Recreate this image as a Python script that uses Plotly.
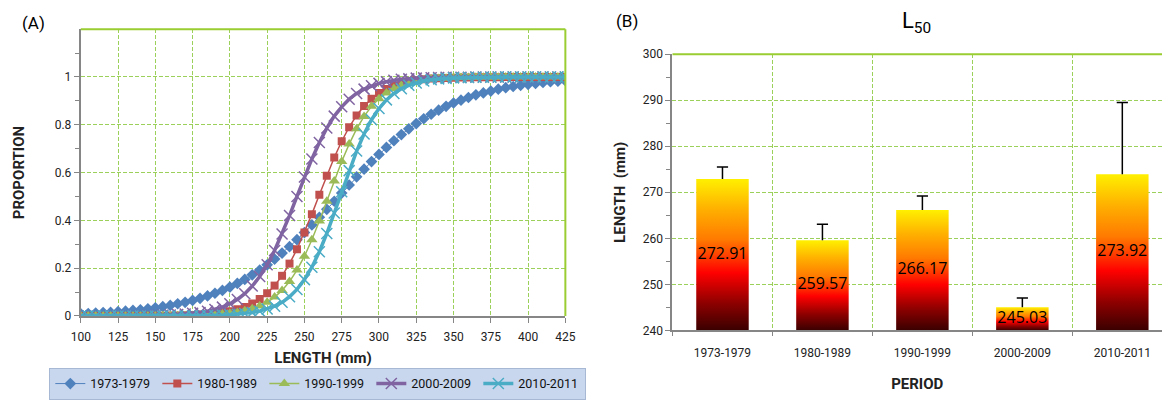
import plotly.graph_objects as go

# ---------------- data ----------------
LENGTH_MM = [100, 105, 110, 115, 120, 125, 130, 135, 140, 145, 150, 155, 160, 165, 170, 175,
             180, 185, 190, 195, 200, 205, 210, 215, 220, 225, 230, 235, 240, 245, 250, 255,
             260, 265, 270, 275, 280, 285, 290, 295, 300, 305, 310, 315, 320, 325, 330, 335,
             340, 345, 350, 355, 360, 365, 370, 375, 380, 385, 390, 395, 400, 405, 410, 415,
             420, 425]

P_1973_1979 = [0.009, 0.010, 0.012, 0.014, 0.015, 0.018, 0.020, 0.023, 0.026, 0.030, 0.034, 0.039,
               0.044, 0.051, 0.057, 0.065, 0.074, 0.084, 0.095, 0.107, 0.121, 0.136, 0.153, 0.172,
               0.192, 0.214, 0.238, 0.263, 0.290, 0.319, 0.349, 0.381, 0.413, 0.446, 0.480, 0.514,
               0.548, 0.582, 0.614, 0.646, 0.676, 0.705, 0.733, 0.759, 0.783, 0.805, 0.825, 0.844,
               0.861, 0.877, 0.891, 0.903, 0.914, 0.925, 0.933, 0.941, 0.949, 0.955, 0.960, 0.965,
               0.969, 0.973, 0.977, 0.980, 0.982, 0.984]

P_1980_1989 = [0.000, 0.000, 0.000, 0.000, 0.000, 0.000, 0.000, 0.000, 0.000, 0.001, 0.001, 0.001,
               0.002, 0.002, 0.003, 0.004, 0.006, 0.008, 0.011, 0.015, 0.020, 0.028, 0.038, 0.052,
               0.071, 0.095, 0.127, 0.168, 0.219, 0.279, 0.349, 0.426, 0.507, 0.587, 0.663, 0.731,
               0.790, 0.839, 0.878, 0.909, 0.933, 0.950, 0.964, 0.973, 0.981, 0.986, 0.990, 0.993,
               0.995, 0.996, 0.997, 0.998, 0.998, 0.999, 0.999, 0.999, 0.999, 1.000, 1.000, 1.000,
               1.000, 1.000, 1.000, 1.000, 1.000, 1.000]

P_1990_1999 = [0.000, 0.000, 0.000, 0.000, 0.000, 0.000, 0.000, 0.000, 0.000, 0.000, 0.000, 0.001,
               0.001, 0.001, 0.001, 0.002, 0.003, 0.004, 0.006, 0.008, 0.011, 0.015, 0.022, 0.030,
               0.042, 0.057, 0.079, 0.107, 0.144, 0.192, 0.250, 0.319, 0.397, 0.480, 0.565, 0.646,
               0.719, 0.783, 0.835, 0.877, 0.909, 0.933, 0.952, 0.965, 0.975, 0.982, 0.987, 0.991,
               0.993, 0.995, 0.997, 0.998, 0.998, 0.999, 0.999, 0.999, 0.999, 1.000, 1.000, 1.000,
               1.000, 1.000, 1.000, 1.000, 1.000, 1.000]

P_2000_2009 = [0.000, 0.000, 0.000, 0.000, 0.000, 0.000, 0.001, 0.001, 0.001, 0.002, 0.002, 0.003,
               0.004, 0.006, 0.008, 0.011, 0.014, 0.020, 0.027, 0.037, 0.051, 0.069, 0.093, 0.125,
               0.165, 0.214, 0.274, 0.343, 0.420, 0.500, 0.581, 0.657, 0.726, 0.786, 0.836, 0.875,
               0.907, 0.931, 0.949, 0.963, 0.973, 0.980, 0.986, 0.990, 0.992, 0.995, 0.996, 0.997,
               0.998, 0.999, 0.999, 0.999, 0.999, 1.000, 1.000, 1.000, 1.000, 1.000, 1.000, 1.000,
               1.000, 1.000, 1.000, 1.000, 1.000, 1.000]

P_2010_2011 = [0.000, 0.000, 0.000, 0.000, 0.000, 0.000, 0.000, 0.000, 0.000, 0.000, 0.000, 0.000,
               0.000, 0.000, 0.001, 0.001, 0.001, 0.002, 0.002, 0.003, 0.005, 0.007, 0.010, 0.014,
               0.020, 0.029, 0.041, 0.057, 0.080, 0.111, 0.152, 0.204, 0.269, 0.345, 0.431, 0.520,
               0.608, 0.690, 0.761, 0.821, 0.868, 0.904, 0.931, 0.951, 0.965, 0.975, 0.983, 0.988,
               0.992, 0.994, 0.996, 0.997, 0.998, 0.999, 0.999, 0.999, 1.000, 1.000, 1.000, 1.000,
               1.000, 1.000, 1.000, 1.000, 1.000, 1.000]

SERIES_NAMES = ["1973-1979", "1980-1989", "1990-1999", "2000-2009", "2010-2011"]

LENGTH_TICKS = [100, 125, 150, 175, 200, 225, 250, 275, 300, 325, 350, 375, 400, 425]
PROP_TICKS = [0, 0.2, 0.4, 0.6, 0.8, 1.0]
PROP_TICKTEXT = ["0", "0.2", "0.4", "0.6", "0.8", "1"]

PERIODS = ["1973-1979", "1980-1989", "1990-1999", "2000-2009", "2010-2011"]
L50 = [272.91, 259.57, 266.17, 245.03, 273.92]
L50_ERR_UP = [2.6, 3.5, 3.0, 2.0, 15.6]

# ---------------- styling ----------------
FONT = "Roboto, sans-serif"
GRID = "#9BD05A"
DASH = "4px,2px"
AXIS = "#868686"
COLORS = ["#4F81BD", "#C0504D", "#9BBB59", "#8064A2", "#4BACC6"]
SYMBOLS = ["diamond", "square", "triangle-up", "x-thin-open", "x-thin-open"]
SIZES = [9, 8, 10, 11, 11]
LWIDTH = [1, 1.5, 1.5, 3.5, 3.5]

for arr in [P_1973_1979, P_1980_1989, P_1990_1999, P_2000_2009, P_2010_2011]:
    assert len(arr) == len(LENGTH_MM)

fig = go.Figure()

series = [P_1973_1979, P_1980_1989, P_1990_1999, P_2000_2009, P_2010_2011]
for name, ys, c, s, sz, lw in zip(SERIES_NAMES, series, COLORS, SYMBOLS, SIZES, LWIDTH):
    mk = dict(symbol=s, size=sz, color=c)
    if s.endswith("open"):
        mk["line"] = dict(color=c, width=1.5)
    else:
        mk["line"] = dict(width=0)
    fig.add_trace(go.Scatter(x=LENGTH_MM, y=ys, name=name, mode="lines+markers",
                             line=dict(color=c, width=lw), marker=mk,
                             xaxis="x", yaxis="y"))

# ---------------- bars (gradient) ----------------
BAR_W = 0.525
BASE = 240
for i, v in enumerate(L50):
    fig.add_trace(go.Scatter(
        x=[i - BAR_W / 2, i + BAR_W / 2, i + BAR_W / 2, i - BAR_W / 2, i - BAR_W / 2],
        y=[BASE, BASE, v, v, BASE],
        mode="lines", fill="toself", line=dict(width=0),
        fillgradient=dict(type="vertical",
                          colorscale=[[0, "#3A0000"], [0.18, "#8E0000"], [0.38, "#FF0000"],
                                      [0.6, "#FF7A00"], [0.8, "#FFB000"], [1, "#FFF000"]]),
        showlegend=False, hoverinfo="skip", xaxis="x2", yaxis="y2"))

# error bars (plus direction only)
ex, ey = [], []
for i, (v, e) in enumerate(zip(L50, L50_ERR_UP)):
    ex += [i, i, None]
    ey += [v, v + e, None]
fig.add_trace(go.Scatter(x=ex, y=ey, mode="lines", line=dict(color="black", width=1.5),
                         showlegend=False, hoverinfo="skip", xaxis="x2", yaxis="y2"))
fig.add_trace(go.Scatter(x=list(range(len(L50))), y=[v + e for v, e in zip(L50, L50_ERR_UP)],
                         mode="markers",
                         marker=dict(symbol="line-ew-open", size=8, color="black",
                                     line=dict(color="black", width=1.5)),
                         showlegend=False, hoverinfo="skip", xaxis="x2", yaxis="y2"))
# data labels (inside, centre)
fig.add_trace(go.Scatter(x=list(range(len(L50))), y=[(BASE + v) / 2 for v in L50],
                         mode="text", text=[f"{v:.2f}" for v in L50],
                         textfont=dict(size=16, color="black", family="Open Sans, sans-serif"),
                         showlegend=False, hoverinfo="skip", xaxis="x2", yaxis="y2"))

W, H = 1172, 400
fig.update_layout(
    width=W, height=H,
    margin=dict(l=0, r=0, t=0, b=0),
    paper_bgcolor="white", plot_bgcolor="white",
    font=dict(family=FONT, size=12, color="#222"),
    showlegend=True,
    legend=dict(orientation="h", x=40 / W, y=1 - 375 / H, xanchor="left", yanchor="top",
                bgcolor="#C8D7EE", bordercolor="#A6B8D4", borderwidth=1,
                font=dict(size=12.5, family=FONT, color="#111"),
                entrywidth=62, entrywidthmode="pixels", itemwidth=30,
                traceorder="normal", tracegroupgap=0),
    xaxis=dict(domain=[72 / W, 565 / W], range=[100, 425], tickvals=LENGTH_TICKS,
               showgrid=True, gridcolor=GRID, griddash=DASH, gridwidth=1,
               showline=True, linecolor=AXIS, linewidth=2, zeroline=False,
               ticks="outside", ticklen=5, tickcolor=AXIS, ticklabelstandoff=4,
               tickfont=dict(size=12, family=FONT, color="#222"),
               title=dict(text="<b>LENGTH (mm)</b>", font=dict(size=15, family=FONT), standoff=9),
               anchor="y"),
    yaxis=dict(domain=[1 - 321 / H, 1 - 23 / H], range=[0, 1.2], tickvals=PROP_TICKS,
               ticktext=PROP_TICKTEXT,
               showgrid=True, gridcolor=GRID, griddash=DASH, gridwidth=1,
               showline=True, linecolor=AXIS, linewidth=2, zeroline=False,
               ticks="outside", ticklen=5, tickcolor=AXIS,
               minor=dict(tickvals=[0.1, 0.3, 0.5, 0.7, 0.9, 1.1], ticks="outside", ticklen=4,
                          tickcolor=AXIS, showgrid=False),
               tickfont=dict(size=12, family=FONT, color="#222"),
               title=dict(text="<b>PROPORTION</b>", font=dict(size=15, family=FONT), standoff=26),
               anchor="x"),
    xaxis2=dict(domain=[674 / W, 1.0], range=[-0.5, 4.397], tickvals=list(range(len(PERIODS))),
                ticktext=PERIODS, showgrid=False, zeroline=False,
                showline=True, linecolor=AXIS, linewidth=2, ticks="",
                minor=dict(tickvals=[-0.5, 0.5, 1.5, 2.5, 3.5, 4.5], ticks="outside", ticklen=4,
                           tickcolor=AXIS, showgrid=True, gridcolor=GRID, griddash=DASH,
                           gridwidth=1),
                ticklabelstandoff=10,
                tickfont=dict(size=12, family=FONT, color="#222"),
                title=dict(text="<b>PERIOD</b>", font=dict(size=15, family=FONT), standoff=20),
                anchor="y2"),
    yaxis2=dict(domain=[1 - 336 / H, 1 - 49 / H], range=[240, 300], dtick=10,
                showgrid=True, gridcolor=GRID, griddash=DASH, gridwidth=1,
                showline=True, linecolor=AXIS, linewidth=2, zeroline=False,
                ticks="outside", ticklen=5, tickcolor=AXIS,
                minor=dict(dtick=5, ticks="outside", ticklen=4, tickcolor=AXIS, showgrid=False),
                tickfont=dict(size=12, family=FONT, color="#222"),
                title=dict(text="<b>LENGTH  (mm)</b>", font=dict(size=15, family=FONT), standoff=14),
                anchor="x2"),
    shapes=[
        dict(type="line", xref="x domain", yref="y domain", x0=0, x1=1, y0=1, y1=1,
             line=dict(color="#9ACD32", width=2)),
        dict(type="line", xref="x domain", yref="y domain", x0=1, x1=1, y0=0, y1=1,
             line=dict(color="#9ACD32", width=2)),
        dict(type="line", xref="x2 domain", yref="y2 domain", x0=0, x1=1, y0=1, y1=1,
             line=dict(color="#9ACD32", width=2)),
    ],
    annotations=[
        dict(text="(A)", x=10 / W, y=1 - 4 / H, xref="paper", yref="paper", xanchor="left",
             yanchor="top", showarrow=False, font=dict(size=17, family=FONT, color="black")),
        dict(text="(B)", x=614 / W, y=1 - 2 / H, xref="paper", yref="paper", xanchor="left",
             yanchor="top", showarrow=False, font=dict(size=17, family=FONT, color="black")),
        dict(text="L<sub>50</sub>", x=922 / W, y=1 - 16 / H, xref="paper", yref="paper",
             xanchor="center", yanchor="middle", showarrow=False,
             font=dict(size=22, family=FONT, color="black")),
    ],
)

fig.write_html("out.html")
